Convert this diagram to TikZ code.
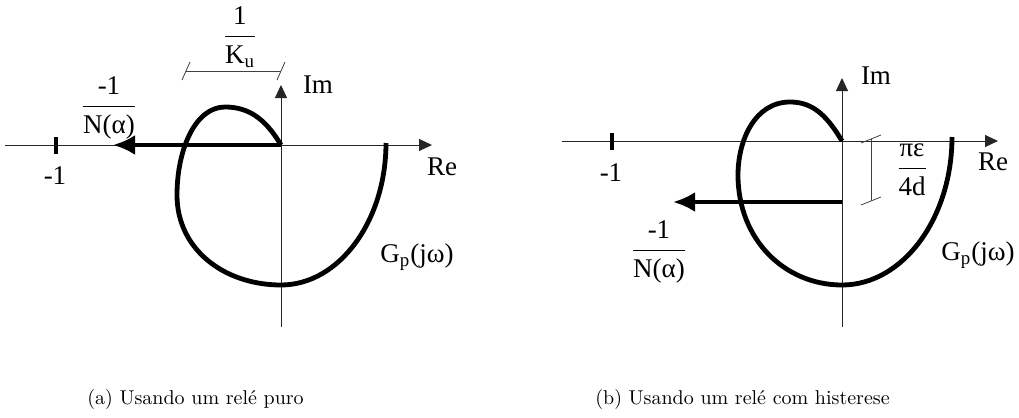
\documentclass[tikz,border=0pt]{standalone}
\usepackage{fontspec}
\newfontfamily\lblfont{Liberation Serif}
\usetikzlibrary{
    arrows.meta,
    positioning,
    calc
}

\begin{document}
\begin{tikzpicture}[
x=0.5pt, y=-0.5pt,
axis/.style={
line width=0.5pt, black!85,
-{Triangle[length=6.5pt,width=6pt]}
},
nyq/.style={line width=2.4pt},
dnarrow/.style={
line width=2pt,
-{Latex[length=11pt,width=10pt]}
},
dimline/.style={line width=0.4pt, black!75},
tickmark/.style={line width=1.6pt},
lbl/.style={
font=\lblfont\fontsize{13.5}{16}\selectfont,
inner sep=0pt
},
capt/.style={
font=\normalsize,
inner sep=0pt,
anchor=base west
}
]
\useasboundingbox (0,0) rectangle (1019,418);

% (a) rele puro
\coordinate (Oa) at (281,145);
\coordinate (ReLa) at (5,145);
\coordinate (ReRa) at (432,145);
\coordinate (ImBa) at (281,327);
\coordinate (ImTa) at (281,85);
\coordinate (Ma) at (56,145);
\coordinate (Pa) at (113,145);
\coordinate (Ea) at (386,143);

\draw[axis] (ReLa) -- (ReRa);
\draw[axis] (ImBa) -- (ImTa);
\draw[tickmark] ($(Ma)+(0,-8)$) -- ($(Ma)+(0,9)$);

\draw[nyq] (Oa)
.. controls (265,118) and (248,107) .. (225,107)
.. controls (195,107) and (177,150) .. (177,195)
.. controls (177,250) and (225,285) .. (281,285)
.. controls (339,285) and (386,221) .. (Ea);

\draw[dnarrow] (Oa) -- (Pa);

% cota 1/Ku
\coordinate (KLa) at (186,71);
\coordinate (KRa) at (281,71);
\draw[dimline] (KLa) -- (KRa);
\draw[dimline] ($(KLa)+(-4,9)$) -- ($(KLa)+(4,-9)$);
\draw[dimline] ($(KRa)+(-4,9)$) -- ($(KRa)+(4,-9)$);

\node[lbl] (ima) at (318,85) {Im};
\node[lbl] (rea) at (442,167) {Re};
\node[lbl] (m1a) at (55,176) {-1};
\node[lbl] (gpa) at (417,257) {G\textsubscript{p}(jω)};
\node[lbl] (nla) at (109,108)
{$\displaystyle\frac{\mbox{-1}}{\mbox{N(α)}}$};
\node[lbl] (kua) at (240,37)
{$\displaystyle\frac{\mbox{1}}{\mbox{K\textsubscript{u}}}$};

% (b) rele com histerese
\coordinate (Ob) at (842,141);
\coordinate (ReLb) at (562,141);
\coordinate (ReRb) at (998,141);
\coordinate (ImBb) at (842,327);
\coordinate (ImTb) at (842,78);
\coordinate (Mb) at (612,141);
\coordinate (Sb) at (842,202);
\coordinate (Pb) at (673,202);
\coordinate (Eb) at (952,137);

\draw[axis] (ReLb) -- (ReRb);
\draw[axis] (ImBb) -- (ImTb);
\draw[tickmark] ($(Mb)+(0,-8)$) -- ($(Mb)+(0,9)$);

\draw[nyq] (Ob)
.. controls (825,112) and (810,102) .. (790,102)
.. controls (755,102) and (738,140) .. (738,175)
.. controls (738,240) and (785,285) .. (842,285)
.. controls (903,285) and (952,218) .. (Eb);

\draw[dnarrow] (Sb) -- (Pb);

% cota pi eps / 4d
\coordinate (HTb) at (871,139);
\coordinate (HBb) at (871,201);
\draw[dimline] (HTb) -- (HBb);
\draw[dimline] ($(HTb)+(-10,4)$) -- ($(HTb)+(10,-4)$);
\draw[dimline] ($(HBb)+(-10,4)$) -- ($(HBb)+(10,-4)$);

\node[lbl] (imb) at (876,76) {Im};
\node[lbl] (reb) at (993,162) {Re};
\node[lbl] (m1b) at (611,173) {-1};
\node[lbl] (gpb) at (978,255) {G\textsubscript{p}(jω)};
\node[lbl] (nlb) at (659,252)
{$\displaystyle\frac{\mbox{-1}}{\mbox{N(α)}}$};
\node[lbl] (heb) at (912,170)
{$\displaystyle\frac{\mbox{πε}}{\mbox{4d}}$};

% legendas
\node[capt] (capa) at (87,404) {(a) Usando um relé puro};
\node[capt] (capb) at (595,404) {(b) Usando um relé com histerese};

\end{tikzpicture}
\end{document}
